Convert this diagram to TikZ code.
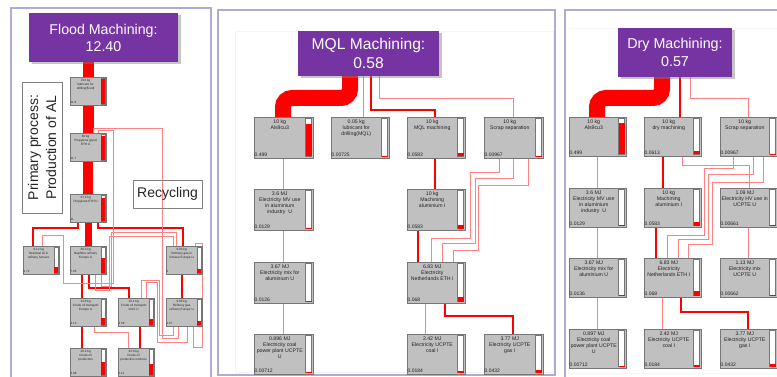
\documentclass[tikz,border=0pt]{standalone}
\usepackage{fontspec}
\setmainfont{Liberation Sans}
\usetikzlibrary{calc,shadows}
\pgfdeclarelayer{bg}
\pgfdeclarelayer{lines}
\pgfsetlayers{bg,lines,main}
\definecolor{panelc}{RGB}{172,172,214}
\definecolor{ttlc}{RGB}{118,52,163}
\definecolor{boxfill}{RGB}{192,192,192}
\definecolor{boxedge}{RGB}{118,118,118}
\definecolor{pinkc}{RGB}{255,130,130}
\definecolor{txtc}{RGB}{35,35,35}
\tikzset{
  pboxst/.style={draw=boxedge, fill=boxfill, line width=0.8pt, inner sep=0pt, outer sep=0pt},
  barst/.style={draw=boxedge, fill=white, line width=0.4pt},
  boxtxt/.style={font=\boxfont, text=txtc, align=center, inner sep=0pt},
  valtxt/.style={font=\valfont, text=txtc, inner sep=0pt},
  ttl/.style={fill=ttlc, text=white, align=center, inner sep=0pt, outer sep=0pt,
    drop shadow={shadow xshift=2.5pt, shadow yshift=-2.5pt, fill=black!50, opacity=0.45}},
  pinkl/.style={draw=pinkc, line width=0.75pt},
  redm/.style={draw=red, line width=1.8pt},
  band/.style={draw=red, line width=16pt, rounded corners=9pt},
  panel/.style={draw=panelc, line width=1.2pt, fill=white},
  labbox/.style={draw=black!50, line width=0.8pt, inner sep=0pt, outer sep=0pt, align=center, text=black!85},
}
\def\boxfont{\fontsize{5.2}{6.3}\selectfont}
\def\valfont{\fontsize{5}{6}\selectfont}
\def\barw{6}\def\barin{1.5}\def\txtdy{2.2}\def\valdy{1.5}
% #1 name, #2 x, #3 y, #4 w, #5 h, #6 text, #7 value, #8 fraction
\newcommand\procbox[8]{%
  \node[pboxst, minimum width=#4pt, minimum height=#5pt, anchor=north west] (#1) at (#2,#3) {};
  \draw[barst] ($(#1.north east)+(-\barin-\barw,\barin)$) rectangle ($(#1.south east)+(-\barin,-\barin)$);
  \fill[red] ($(#1.south east)+(-\barin-\barw,-\barin)$) rectangle ($(#1.south east)+(-\barin,{-\barin-#8*(#5-2*\barin)})$);
  \node[boxtxt, anchor=north] at ($(#1.north west)+({(#4-\barw-\barin)/2},\txtdy)$) {#6};
  \node[valtxt, anchor=south west] at ($(#1.south west)+(0.4,-\valdy)$) {#7};
}
\begin{document}
\begin{tikzpicture}[x=1pt,y=-1pt]
\useasboundingbox (0,0) rectangle (777,377);
\begin{pgfonlayer}{bg}
  \fill[white] (0,0) rectangle (777,377);
  \draw[panel] (11,8) rectangle (211,395);
  \draw[panel] (218,10) rectangle (555,375);
  \draw[panel] (565,10) rectangle (795,395);
  \draw[black!4, line width=0.5pt] (235,31) rectangle (553,372);
  \draw[black!4, line width=0.5pt] (567,28) -- (777,28);
  \draw[black!4, line width=0.5pt] (567,373) -- (777,373);
\end{pgfonlayer}

% ---------------- Flood machining ----------------
\node[ttl, minimum width=149pt, minimum height=49pt, anchor=north west,
  font=\fontsize{14.2}{17}\selectfont] (tF) at (29,13) {Flood Machining:\\12.40};
\node[labbox, rotate=90, minimum width=131pt, minimum height=40pt, fill=white,
  font=\fontsize{14}{18}\selectfont] (pp) at (42,147.5) {Primary process:\\Production of AL};
\node[labbox, minimum width=69pt, minimum height=28pt,
  font=\fontsize{14}{16}\selectfont] (rec) at (167.5,194) {Recycling};

\def\boxfont{\fontsize{3.1}{4.1}\selectfont}
\def\valfont{\fontsize{3}{3.5}\selectfont}
\def\barw{3.5}\def\barin{1.2}\def\txtdy{2}\def\valdy{1}
\procbox{L1}{70}{77}{36}{28}{150 kg\\lubricant for\\drilling(flood)}{11.8}{0.95}
\procbox{L2}{70}{133}{36}{28}{60 kg\\Propylene glycol\\ETH U}{11.7}{0.94}
\procbox{L3}{70}{194}{36}{28}{37.2 kg\\Propylene ETH U}{11}{0.89}
\procbox{L4}{23}{246}{36}{28}{6.12 kg\\Residual oil in\\refinery furnace}{2.72}{0.22}
\procbox{L5}{70}{246}{36}{28}{39.3 kg\\Naphtha refinery\\Europe U}{7.05}{0.57}
\procbox{L6}{166}{246}{36}{28}{9.83 kg\\Refinery gas in\\furnace Europe U}{2}{0.16}
\procbox{L7}{70}{298}{36}{28}{13.6 kg\\Crude oil transport\\Europe U}{3.13}{0.25}
\procbox{L8}{118}{298}{36}{28}{16.1 kg\\Crude oil transport\\GUS U}{2.59}{0.21}
\procbox{L9}{166}{298}{36}{28}{9.83 kg\\Refinery gas\\refinery Europe U}{1.67}{0.13}
\procbox{L10}{70}{348}{36}{28}{26.2 kg\\Crude oil\\production}{6.08}{0.49}
\procbox{L11}{118}{348}{36}{28}{32.6 kg\\Crude oil\\production onshore}{5.11}{0.41}

% ---------------- MQL machining ----------------
\node[ttl, minimum width=141pt, minimum height=45pt, anchor=north west,
  font=\fontsize{15.6}{19.5}\selectfont] (tM) at (298,31) {MQL Machining:\\0.58};
\def\boxfont{\fontsize{5.2}{6.3}\selectfont}
\def\valfont{\fontsize{5}{6}\selectfont}
\def\barw{6}\def\barin{1.5}\def\txtdy{2.2}\def\valdy{1.5}
\procbox{Mal}{254}{117}{59}{41}{10 kg\\Als9cu3}{0.499}{0.86}
\procbox{Mlub}{331}{117}{58}{41}{0.05 kg\\lubricant for\\drilling(MQL)}{0.00725}{0.0125}
\procbox{Mmql}{407}{117}{58}{41}{10 kg\\MQL machining}{0.0583}{0.10}
\procbox{Mscr}{484}{117}{59}{41}{10 kg\\Scrap separation}{0.00967}{0.017}
\procbox{Mmv}{254}{189}{59}{41}{3.6 MJ\\Electricity MV use\\in aluminium\\industry\ \ U}{0.0129}{0.022}
\procbox{Mmach}{407}{189}{58}{41}{10 kg\\Machining\\aluminium I}{0.0583}{0.10}
\procbox{Mmix}{254}{262}{59}{41}{3.67 MJ\\Electricity mix for\\aluminium U}{0.0126}{0.022}
\procbox{Mnl}{407}{262}{58}{41}{6.83 MJ\\Electricity\\Netherlands ETH I}{0.068}{0.117}
\procbox{Mcoal}{254}{334}{59}{40}{0.896 MJ\\Electricity coal\\power plant UCPTE\\U}{0.00712}{0.012}
\procbox{Mucoal}{407}{334}{58}{40}{2.42 MJ\\Electricity UCPTE\\coal I}{0.0184}{0.032}
\procbox{Mgas}{484}{334}{59}{40}{3.77 MJ\\Electricity UCPTE\\gas I}{0.0432}{0.074}

% ---------------- Dry machining ----------------
\node[ttl, minimum width=114pt, minimum height=49pt, anchor=north west,
  font=\fontsize{14.3}{18}\selectfont] (tD) at (618,28) {Dry Machining:\\0.57};
\procbox{Ral}{569}{117}{57}{39}{10 kg\\Als9cu3}{0.499}{0.875}
\procbox{Rdry}{644}{117}{57}{39}{10 kg\\dry machining}{0.0613}{0.11}
\procbox{Rscr}{720}{117}{57}{39}{10 kg\\Scrap separation}{0.00967}{0.017}
\procbox{Rmv}{569}{188}{57}{39}{3.6 MJ\\Electricity MV use\\in aluminium\\industry\ \ U}{0.0129}{0.023}
\procbox{Rmach}{644}{188}{57}{39}{10 kg\\Machining\\aluminium I}{0.0583}{0.10}
\procbox{Rhv}{720}{188}{57}{39}{1.09 MJ\\Electricity HV use in\\UCPTE U}{0.00661}{0.012}
\procbox{Rmix}{569}{258}{57}{39}{3.67 MJ\\Electricity mix for\\aluminium U}{0.0136}{0.024}
\procbox{Rnl}{644}{258}{57}{39}{6.83 MJ\\Electricity\\Netherlands ETH I}{0.068}{0.12}
\procbox{Rumix}{720}{258}{57}{39}{1.13 MJ\\Electricity mix\\UCPTE U}{0.00662}{0.012}
\procbox{Rcoal}{569}{329}{57}{39}{0.897 MJ\\Electricity coal\\power plant UCPTE\\U}{0.00712}{0.012}
\procbox{Rucoal}{644}{329}{57}{39}{2.42 MJ\\Electricity UCPTE\\coal I}{0.0184}{0.032}
\procbox{Rgas}{720}{329}{57}{39}{3.77 MJ\\Electricity UCPTE\\gas I}{0.0432}{0.076}

% ---------------- connectors ----------------
\begin{pgfonlayer}{lines}
  % flood
  \draw[red, line width=11pt] (tF.south -| 88,0) -- (L1.north -| 88,0);
  \draw[red, line width=11pt] (L1.south -| 88,0) -- (L2.north -| 88,0);
  \draw[red, line width=10pt] (L2.south -| 88,0) -- (L3.north -| 88,0);
  \draw[red, line width=7pt] (L3.south -| 88.5,0) -- (L5.north -| 88.5,0);
  \draw[redm, line width=2pt] (L3.south -| 78,0) -- (78,228) -- (33,228) -- (L4.north -| 33,0);
  \draw[redm, line width=1.5pt] (L3.south -| 98,0) -- (98,228) -- (183,228) -- (L6.north -| 183,0);
  \draw[redm, line width=2.5pt] (L5.south -| 82,0) -- (L7.north -| 82,0);
  \draw[redm, line width=2pt] (L5.south -| 89,0) -- (89,288) -- (129,288) -- (L8.north -| 129,0);
  \draw[redm, line width=1.5pt] (L6.south -| 182,0) -- (L9.north -| 182,0);
  \draw[redm, line width=2.5pt] (L7.south -| 82,0) -- (L10.north -| 82,0);
  \draw[redm, line width=2pt] (L8.south -| 140,0) -- (L11.north -| 140,0);
  \draw[pinkl] (L2.north -| 93,0) -- (93,128) -- (162,128) -- (162,338) -- (178,338) -- (L9.south -| 178,0);
  \draw[pinkl] (L2.north -| 98,0) -- (98,130) -- (113,130) -- (113,283) -- (63,283) -- (63,235) -- (42,235) -- (L4.north -| 42,0);
  \draw[pinkl] (L5.south -| 95,0) -- (95,290) -- (109,290) -- (109,236) -- (173,236) -- (L6.north -| 173,0);
  \draw[pinkl] (L5.south -| 101,0) -- (101,286) -- (111,286) -- (111,232) -- (176,232) -- (L6.north -| 176,0);
  \draw[pinkl] (L6.north -| 195,0) -- (195,243) -- (202,243) -- (202,347) -- (193,347) -- (L9.south -| 193,0);
  \draw[pinkl] (L9.south -| 187,0) -- (187,342) -- (157,342) -- (157,282) -- (146,282) -- (L8.north -| 146,0);
  \draw[pinkl] (L9.south -| 173,0) -- (173,335) -- (159,335) -- (159,280) -- (141,280) -- (L8.north -| 141,0);
  \draw[pinkl] (L7.south -| 94,0) -- (94,332) -- (128,332) -- (L11.north -| 128,0);
  % MQL
  \draw[band] (tM.south -| 350,0) -- (350,98) -- (283,98) -- (Mal.north -| 283,0);
  \draw[pinkl] (tM.south -| 363,0) -- (Mlub.north -| 363,0);
  \draw[redm, line width=1.6pt] (tM.south -| 371,0) -- (371,110) -- (435,110) -- (Mmql.north -| 435,0);
  \draw[pinkl] (tM.south -| 379,0) -- (379,98) -- (513,98) -- (Mscr.north -| 513,0);
  \draw[pinkl] (Mal.south -| 283,0) -- (Mmv.north -| 283,0);
  \draw[pinkl] (Mmv.south -| 283,0) -- (Mmix.north -| 283,0);
  \draw[pinkl] (Mmix.south -| 283,0) -- (Mcoal.north -| 283,0);
  \draw[redm] (Mmql.south -| 435,0) -- (Mmach.north -| 435,0);
  \draw[redm, line width=2.2pt] (Mmach.south -| 418,0) -- (Mnl.north -| 418,0);
  \draw[pinkl] (Mnl.south -| 425,0) -- (Mucoal.north -| 425,0);
  \draw[redm] (Mnl.south -| 445,0) -- (445,316) -- (513,316) -- (Mgas.north -| 513,0);
  \draw[pinkl] (Mscr.south -| 499,0) -- (499,172) -- (470,172) -- (470,238) -- (431,238) -- (Mnl.north -| 431,0);
  \draw[pinkl] (Mscr.south -| 513,0) -- (513,178) -- (475,178) -- (475,243) -- (442,243) -- (Mnl.north -| 442,0);
  \draw[pinkl] (Mscr.south -| 528,0) -- (528,185) -- (478,185) -- (478,250) -- (453,250) -- (Mnl.north -| 453,0);
  % Dry
  \draw[band] (tD.south -| 662,0) -- (662,98) -- (597,98) -- (Ral.north -| 597,0);
  \draw[redm, line width=1.6pt] (tD.south -| 680,0) -- (Rdry.north -| 680,0);
  \draw[pinkl] (tD.south -| 690,0) -- (690,98) -- (748,98) -- (Rscr.north -| 748,0);
  \draw[pinkl] (Ral.south -| 597,0) -- (Rmv.north -| 597,0);
  \draw[pinkl] (Rmv.south -| 597,0) -- (Rmix.north -| 597,0);
  \draw[pinkl] (Rmix.south -| 597,0) -- (Rcoal.north -| 597,0);
  \draw[redm] (Rdry.south -| 663,0) -- (Rmach.north -| 663,0);
  \draw[redm, line width=2.2pt] (Rmach.south -| 656,0) -- (Rnl.north -| 656,0);
  \draw[pinkl] (Rnl.south -| 662,0) -- (Rucoal.north -| 662,0);
  \draw[redm] (Rnl.south -| 681,0) -- (681,312) -- (748,312) -- (Rgas.north -| 748,0);
  \draw[pinkl] (Rhv.south -| 748,0) -- (Rumix.north -| 748,0);
  \draw[pinkl] (Rdry.south -| 682,0) -- (682,165) -- (749,165) -- (Rhv.north -| 749,0);
  \draw[pinkl] (Rscr.south -| 733,0) -- (733,168) -- (704,168) -- (704,235) -- (667,235) -- (Rnl.north -| 667,0);
  \draw[pinkl] (Rscr.south -| 753,0) -- (753,174) -- (708,174) -- (708,239) -- (678,239) -- (Rnl.north -| 678,0);
  \draw[pinkl] (Rscr.south -| 763,0) -- (763,182) -- (712,182) -- (712,244) -- (688,244) -- (Rnl.north -| 688,0);
\end{pgfonlayer}
\end{tikzpicture}
\end{document}
